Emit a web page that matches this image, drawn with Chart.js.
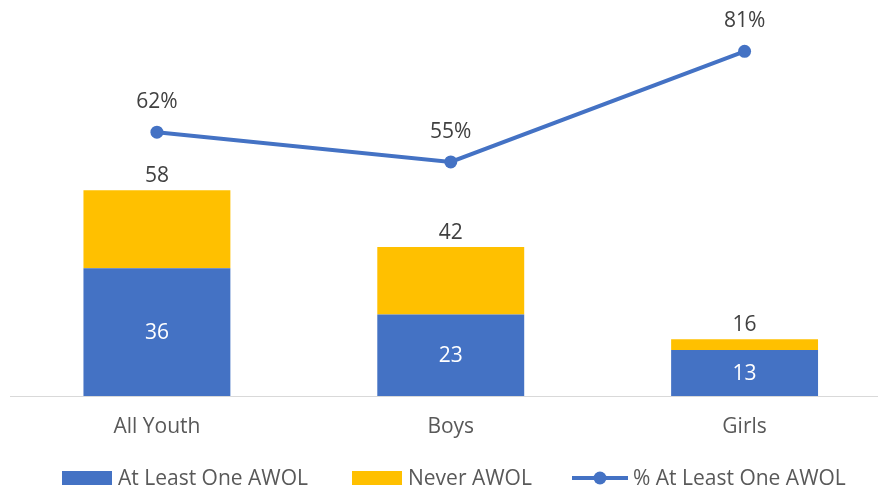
<!DOCTYPE html>
<html>
<head>
<meta charset="utf-8">
<script src="https://cdn.jsdelivr.net/npm/chart.js@4.4.1/dist/chart.umd.min.js"></script>
<style>
  html, body { margin: 0; padding: 0; background: #ffffff; overflow: hidden; }
  canvas { display: block; }
</style>
</head>
<body>
<canvas id="awolChart" width="898" height="492"></canvas>
<script>
const categories = ["All Youth", "Boys", "Girls"];
const atLeastOne = [36, 23, 13];
const neverAwol = [22, 19, 3];
const pctAtLeastOne = [62, 55, 81];

const BLUE = "#4472C4";
const GOLD = "#FFC000";
const FONT = "'Open Sans', sans-serif";

// value labels, placed from the elements the scales produced
const valueLabels = {
  id: "valueLabels",
  afterDatasetsDraw(chart) {
    const ctx = chart.ctx;
    ctx.save();
    ctx.font = "21px " + FONT;
    ctx.textAlign = "center";
    ctx.textBaseline = "middle";

    chart.getDatasetMeta(0).data.forEach((bar, i) => {
      ctx.fillStyle = "#ffffff";
      ctx.fillText(atLeastOne[i], bar.x, (bar.y + bar.base) / 2 + 1);
    });
    ctx.fillStyle = "#404040";
    chart.getDatasetMeta(1).data.forEach((bar, i) => {
      ctx.fillText(atLeastOne[i] + neverAwol[i], bar.x, bar.y - 14);
    });
    chart.getDatasetMeta(2).data.forEach((pt, i) => {
      ctx.fillText(pctAtLeastOne[i] + "%", pt.x, pt.y - 30);
    });
    ctx.restore();
  }
};

// legend at the bottom, drawn like the original
const bottomLegend = {
  id: "bottomLegend",
  afterDraw(chart) {
    const ctx = chart.ctx;
    const y = 478;
    ctx.save();
    ctx.font = "21px " + FONT;
    ctx.textBaseline = "middle";

    const starts = [62, 352, 572];
    chart.data.datasets.forEach((ds, i) => {
      let x = starts[i];
      if (ds.type === "line") {
        ctx.strokeStyle = ds.borderColor;
        ctx.lineWidth = 4;
        ctx.beginPath();
        ctx.moveTo(x, y);
        ctx.lineTo(x + 56, y);
        ctx.stroke();
        ctx.fillStyle = ds.borderColor;
        ctx.beginPath();
        ctx.arc(x + 28, y, 6.5, 0, Math.PI * 2);
        ctx.fill();
        x += 61;
      } else {
        ctx.fillStyle = ds.backgroundColor;
        ctx.fillRect(x, y - 7, 50, 14);
        x += 56;
      }
      ctx.fillStyle = "#595959";
      ctx.fillText(ds.label, x, y + 1);
    });
    ctx.restore();
  }
};

new Chart(document.getElementById("awolChart"), {
  data: {
    labels: categories,
    datasets: [
      {
        type: "bar",
        label: "At Least One AWOL",
        data: atLeastOne,
        backgroundColor: BLUE,
        stack: "youth",
        yAxisID: "y",
        categoryPercentage: 1,
        barPercentage: 0.5,
        order: 2,
      },
      {
        type: "bar",
        label: "Never AWOL",
        data: neverAwol,
        backgroundColor: GOLD,
        stack: "youth",
        yAxisID: "y",
        categoryPercentage: 1,
        barPercentage: 0.5,
        order: 2,
      },
      {
        type: "line",
        label: "% At Least One AWOL",
        data: pctAtLeastOne,
        borderColor: BLUE,
        backgroundColor: BLUE,
        borderWidth: 4,
        pointRadius: 6.5,
        pointBackgroundColor: BLUE,
        pointBorderWidth: 0,
        tension: 0,
        yAxisID: "y1",
        order: 1,
      },
    ],
  },
  options: {
    responsive: false,
    animation: false,
    devicePixelRatio: 1,
    layout: {
      padding: { top: 13, left: 10, right: 0, bottom: 50 },
    },
    plugins: {
      legend: { display: false },
      tooltip: { enabled: false },
    },
    scales: {
      x: {
        grid: { display: false, drawTicks: false },
        border: { display: true, color: "#D9D9D9", width: 1 },
        ticks: {
          color: "#595959",
          font: { family: FONT, size: 21 },
          padding: 18,
        },
        afterFit(scale) {
          scale.height = 46;
        },
      },
      y: {
        display: false,
        stacked: true,
        min: 0,
        max: 108,
      },
      y1: {
        display: false,
        min: 0,
        max: 90,
      },
    },
  },
  plugins: [valueLabels, bottomLegend],
});
</script>
</body>
</html>
